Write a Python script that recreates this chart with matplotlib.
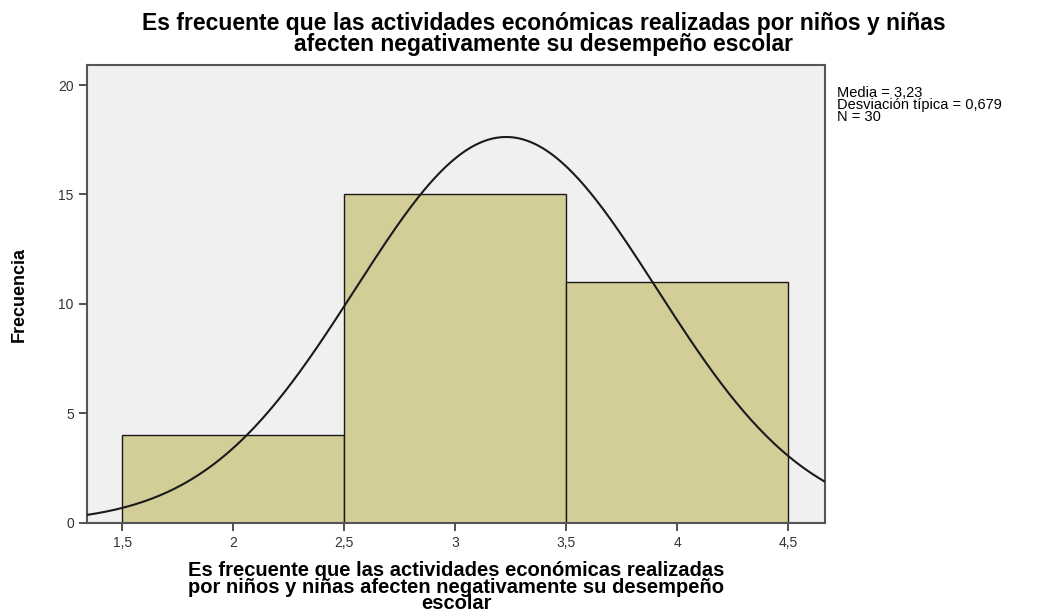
import numpy as np
import matplotlib.pyplot as plt

plt.rcParams['font.family'] = ['Liberation Sans', 'DejaVu Sans']

# histogram data
bin_edges = [1.5, 2.5, 3.5, 4.5]
counts = [4, 15, 11]
media = 3.23
desv = 0.679
n = 30

titulo = 'Es frecuente que las actividades económicas realizadas por niños y niñas\nafecten negativamente su desempeño escolar'
xlabel = 'Es frecuente que las actividades económicas realizadas\npor niños y niñas afecten negativamente su desempeño\nescolar'
xticks = [1.5, 2, 2.5, 3, 3.5, 4, 4.5]
xticklabels = ['1,5', '2', '2,5', '3', '3,5', '4', '4,5']
yticks = [0, 5, 10, 15, 20]

fig = plt.figure(figsize=(10.56, 6.16), dpi=100)
ax = fig.add_axes([0.0824, 0.151, 0.699, 0.743])
ax.set_facecolor('#f0f0f0')

widths = np.diff(bin_edges)
ax.bar(bin_edges[:-1], counts, width=widths, align='edge',
       color='#d3cd98', edgecolor='#1a1a1a', linewidth=1.0, zorder=2)

# normal curve from the reported mean / sd / N
xmin, xmax = 1.342, 4.667
xs = np.linspace(xmin, xmax, 400)
bw = widths[0]
ys = n * bw / (desv * np.sqrt(2 * np.pi)) * np.exp(-0.5 * ((xs - media) / desv) ** 2)
ax.plot(xs, ys, color='#1a1a1a', linewidth=1.5, zorder=3)

ax.set_xlim(xmin, xmax)
ax.set_ylim(0, 20.9)
ax.set_xticks(xticks)
ax.set_xticklabels(xticklabels)
ax.set_yticks(yticks)
ax.tick_params(labelsize=10, colors='#333333', length=6, width=1.2)
for s in ax.spines.values():
    s.set_color('#555555')
    s.set_linewidth(1.5)

ax.set_ylabel('Frecuencia', fontsize=13, fontweight='bold', labelpad=22)
ax.set_xlabel(xlabel, fontsize=14.5, fontweight='bold', linespacing=0.82, labelpad=8)
fig.text(0.515, 0.981, titulo, ha='center', va='top', fontsize=16.5,
         fontweight='bold', linespacing=0.9)

fig.text(0.793, 0.86, 'Media = 3,23\nDesviación típica = 0,679\nN = 30',
         ha='left', va='top', fontsize=10.5, linespacing=0.8)

fig.savefig('out.png', dpi=100)
